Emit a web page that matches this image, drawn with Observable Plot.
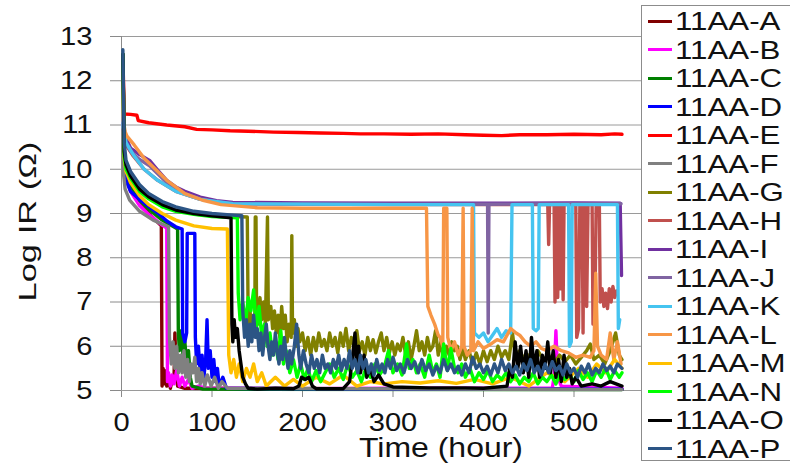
<!DOCTYPE html>
<html><head><meta charset="utf-8">
<script src="https://cdn.jsdelivr.net/npm/d3@7"></script>
<script src="https://cdn.jsdelivr.net/npm/@observablehq/plot@0.6"></script>
<style>
body{margin:0;background:#fff;}
#wrap{position:relative;width:790px;height:468px;overflow:hidden;font-family:"Liberation Sans",Arial,sans-serif;background:#fff;}
#legend{position:absolute;left:641px;top:5px;width:170px;height:456px;border:1px solid #8c8c8c;background:#fff;box-sizing:border-box;}
.row{position:absolute;left:0;height:28px;display:flex;align-items:center;}
.sw{width:24px;height:3px;margin-left:6px;flex:none;}
.lb{font-size:25px;color:#111;margin-left:3px;transform:scaleX(1.25);transform-origin:left center;white-space:nowrap;line-height:28px;}
#wrap svg g[aria-label^="x-axis"] line, #wrap svg g[aria-label^="y-axis"] line,
#wrap svg g[aria-label$="-axis tick"] path, #wrap svg g[aria-label$="-axis tick"] line{stroke:#8a8a8a;}
</style></head><body><div id="wrap"></div><script>
const seriesNames = ["11AA-A","11AA-B","11AA-C","11AA-D","11AA-E","11AA-F","11AA-G","11AA-H","11AA-I","11AA-J","11AA-K","11AA-L","11AA-M","11AA-N","11AA-O","11AA-P"];
const seriesColors = ["#800000","#ff00ff","#008000","#0000ff","#ff0000","#808080","#808000","#c0504d","#7030a0","#8064a2","#45c4f0","#f79646","#ffc000","#00ff00","#000000","#2c5585"];
const xTicks = [0,100,200,300,400,500,600];
const yTicks = [5,6,7,8,9,10,11,12,13];

const A = [[1.5,12.6],[3,10.2],[5,9.85],[10,9.52],[20,9.2],[30,9.0],[44,8.72],[44.8,5.1],[46,5.5],[47,5.15],[48,5.45],[50,5.1],[52,5.3],[54,5.05],[56,5.25],[58,5.2],[59,6.3],[60.5,5.4],[62,5.1],[70,5.05],[553,5.03]];
const B = [[1.5,12.6],[3,10.15],[5,9.82],[10,9.5],[20,9.18],[30,8.98],[44,8.75],[50,8.67],[50.8,5.2],[52,5.4],[54,5.1],[56,5.35],[58,5.15],[61,5.45],[64,5.1],[67,5.3],[70,5.1],[74,5.25],[78,5.05],[85,5.1],[95,5.05],[200,5.04],[300,5.05],[476,5.05],[478,5.3],[480,6.35],[482,5.3],[486,5.1],[553,5.05]];
const C = [[1.5,12.6],[3,10.3],[5,9.95],[10,9.62],[20,9.3],[30,9.1],[45,8.85],[62,8.65],[62.8,6.3],[64,5.9],[66,6.35],[68,5.8],[70,6.1],[72,5.6],[74,5.9],[76,5.3],[78,5.1],[90,5.03],[553,5.02]];
const D = [[1.5,12.6],[3,10.0],[5,9.75],[10,9.5],[22,9.28],[41,9.0],[50,8.83],[60,8.7],[67,8.65],[67.6,6.3],[70,6.1],[72,6.3],[72.6,8.55],[81,8.55],[81.6,6.2],[83,5.6],[85,6.0],[87,5.4],[89,5.8],[91,5.3],[93,5.7],[94.5,6.6],[96,5.5],[98,5.9],[100,5.3],[102,5.7],[104,5.2],[106,5.5],[108,5.1],[112,5.3],[116,5.05],[300,5.03],[553,5.03]];
const E = [[1.5,12.6],[3,11.25],[10,11.24],[17,11.22],[18.5,11.1],[30,11.05],[50,11.0],[70,10.96],[83,10.9],[100,10.89],[120,10.87],[140,10.86],[168,10.84],[195,10.83],[220,10.82],[245,10.81],[264,10.8],[290,10.8],[320,10.79],[350,10.8],[380,10.78],[400,10.77],[420,10.76],[440,10.78],[470,10.78],[500,10.79],[530,10.78],[545,10.8],[553,10.79]];
const F = [[1.5,12.5],[2.2,9.9],[4,9.55],[9,9.3],[20,9.05],[35,8.85],[52,8.7],[53,6.2],[55,5.6],[57,6.1],[59,5.5],[61,6.0],[63,5.4],[65,5.8],[67,5.4],[69,5.9],[71,5.3],[73,5.7],[75,5.2],[77,5.6],[79,5.4],[81,5.75],[83,5.2],[85,5.5],[87,5.15],[89,5.4],[92,5.1],[95,5.35],[99,5.1],[103,5.3],[107,5.05],[111,5.2],[117,5.05],[553,5.02]];
const G = [[1.5,12.6],[3,10.35],[5,10.05],[10,9.82],[20,9.52],[30,9.35],[45,9.18],[60,9.07],[80,8.99],[100,8.95],[139,8.92],[140,6.5],[142,6.8],[144,6.3],[146,6.7],[147.3,6.4],[147.8,8.92],[148.6,8.92],[149.2,6.9],[151,6.5],[153,7.1],[155,6.6],[157,7.0],[159,6.5],[161.3,8.92],[162.3,6.6],[165,6.9],[167,6.4],[169,6.8],[171,6.3],[173,6.7],[175,6.2],[177,6.9],[179,6.4],[181,6.7],[183,6.1],[185,6.5],[187.5,6.2],[188.2,8.5],[189,6.3],[191,6.6],[193,6.0],[195,6.4],[197,6.1],[200,6.3],[203,5.9],[206,6.2],[209,5.8],[212,6.2],[215,5.9],[218,6.3],[221,6.0],[224,6.15],[227,5.9],[230,6.3],[233,6.0],[236,6.2],[239,5.85],[242,6.3],[245,6.0],[248,6.4],[251,5.9],[254,6.2],[257,6.0],[260,6.35],[263,5.9],[266,6.1],[269,5.8],[272,6.2],[275,5.9],[278,6.15],[281,5.85],[284,6.1],[287,6.3],[290,5.9],[293,6.2],[296,5.85],[299,6.1],[302,5.8],[305,6.05],[308,5.9],[311,6.2],[314,5.8],[317,6.1],[320,5.7],[323,6.0],[326,6.35],[329,5.9],[332,6.1],[335,5.8],[338,6.2],[341,5.9],[344,6.0],[347,6.35],[350,5.8],[353,6.1],[356,5.7],[359,6.0],[362,5.8],[365,6.1],[368,5.9],[371,6.0],[374,5.7],[377,5.95],[380,5.7],[384,5.9],[388,5.6],[392,5.85],[396,5.6],[400,5.9],[404,5.65],[408,5.9],[412,5.7],[416,6.0],[420,5.75],[424,5.9],[428,5.7],[432,6.3],[435,5.8],[440,5.9],[445,5.7],[450,5.8],[455,5.6],[460,5.9],[466,5.7],[472,5.8],[478,5.6],[484,5.8],[490,5.65],[496,5.8],[502,5.6],[508,5.75],[514,5.9],[518,6.05],[522,5.7],[528,5.8],[534,5.6],[540,5.9],[546,6.3],[550,5.8],[553,5.7]];
const H = [[1.5,12.6],[3,10.85],[5,10.55],[13,10.3],[25,10.0],[40,9.75],[60,9.5],[87,9.32],[123,9.22],[300,9.2],[471,9.2],[472,8.3],[473,9.2],[478,9.2],[479,7.0],[480.5,9.2],[482,7.1],[483.5,9.2],[485,7.3],[486.5,9.2],[488,7.05],[489,9.2],[502,9.2],[503,6.2],[505,6.4],[506.5,9.2],[509,9.2],[510,6.3],[511,9.2],[513,9.2],[514,6.9],[515.5,9.2],[520,9.2],[521,6.5],[523,6.7],[524.5,9.2],[528,9.2],[529,7.0],[531,7.3],[533,6.9],[535,7.2],[537,6.85],[539,7.3],[541,7.0],[543,7.35],[545,7.1],[547,7.25]];
const I = [[1.5,12.6],[2,11.0],[5,10.7],[10,10.48],[20,10.33],[31,10.2],[40,9.98],[50,9.75],[60,9.6],[70,9.5],[87,9.37],[105,9.29],[123,9.25],[200,9.24],[300,9.23],[400,9.23],[500,9.24],[551,9.23],[552.5,7.6]];
const J = [[1.5,12.6],[2,10.9],[5,10.6],[10,10.4],[20,10.22],[31,10.08],[40,9.9],[50,9.7],[60,9.55],[70,9.45],[87,9.33],[105,9.26],[123,9.22],[300,9.21],[404.5,9.21],[405.2,6.3],[406,9.21],[500,9.22],[552,9.22]];
const K = [[1.5,12.6],[2,10.95],[5,10.6],[13,10.33],[25,10.0],[40,9.75],[60,9.5],[87,9.32],[123,9.22],[300,9.2],[389,9.2],[390,6.3],[395,6.2],[400,6.3],[405,6.1],[410,6.25],[415,6.4],[420,6.2],[425,6.35],[430,6.3],[431.5,9.2],[454,9.2],[455,6.4],[458,6.35],[460.5,6.4],[461.5,9.2],[494,9.2],[495,6.0],[497,6.1],[498,9.2],[548,9.2],[549,6.4],[550.5,6.6]];
const L = [[1.5,12.6],[2,11.1],[4,10.85],[6,10.75],[14,10.55],[25,10.25],[35,10.05],[50,9.75],[70,9.45],[90,9.3],[110,9.2],[150,9.13],[200,9.12],[300,9.12],[337,9.12],[338.5,6.9],[342,6.7],[346,6.5],[350,6.25],[352,6.2],[355,6.0],[356,9.12],[359.5,9.12],[360.5,6.2],[364,5.9],[368,6.1],[372,5.8],[376,6.0],[377.5,9.12],[378.5,6.0],[382,5.8],[386,5.9],[387.5,9.12],[389,5.9],[394,6.1],[400,5.95],[408,6.05],[415,6.15],[422,6.1],[430,6.4],[436,6.3],[440,6.25],[446,6.1],[452,6.0],[458,6.1],[464,5.95],[470,5.9],[478,6.0],[486,5.9],[494,5.85],[502,5.75],[510,5.8],[518,5.75],[522,5.9],[524,7.65],[526,6.0],[530,5.8],[536,5.7],[540,6.3],[544,5.7],[548,6.1],[552,5.6]];
const M = [[1.5,12.6],[3,10.25],[5,9.95],[10,9.7],[20,9.4],[30,9.2],[45,9.0],[60,8.85],[80,8.72],[100,8.66],[117,8.65],[118.5,5.8],[121,5.4],[124,5.7],[127,5.3],[130,5.6],[134,5.2],[138,5.5],[142,5.3],[146,5.6],[150,5.2],[155,5.4],[160,5.1],[170,5.3],[180,5.1],[190,5.25],[200,5.1],[215,5.3],[230,5.15],[245,5.35],[260,5.1],[275,5.2],[290,5.15],[310,5.2],[330,5.17],[350,5.22],[370,5.16],[390,5.25],[410,5.15],[430,5.3],[450,5.1],[470,5.4],[490,5.2],[505,5.5],[515,5.3],[525,5.6],[535,5.4],[545,5.7],[553,5.5]];
const N = [[1.5,12.6],[3,10.3],[5,10.0],[10,9.8],[20,9.5],[30,9.33],[45,9.15],[60,9.05],[80,8.98],[100,8.93],[128,8.9],[129,7.2],[131,6.6],[134,7.0],[137,6.5],[140,7.1],[143,6.8],[146,7.27],[149,6.4],[152,6.9],[155,6.2],[158,6.5],[161,6.0],[164,6.3],[167,5.8],[170,6.1],[173,5.7],[176,6.35],[179,5.6],[182,5.9],[186,5.4],[190,5.7],[194,5.3],[198,5.6],[202,5.25],[206,5.5],[210,5.2],[215,5.45],[220,5.2],[225,5.4],[230,5.6],[235,5.3],[240,5.5],[245,5.25],[250,5.6],[255,5.3],[260,5.45],[265,5.2],[270,5.5],[275,5.3],[280,5.6],[285,5.35],[290,5.5],[295,5.9],[300,5.4],[305,5.6],[310,5.35],[315,6.05],[318,5.5],[322,5.7],[326,5.4],[330,5.6],[335,5.3],[340,5.8],[344,5.4],[348,5.6],[352,5.3],[356,6.05],[360,5.45],[364,5.95],[368,5.5],[372,5.4],[376,5.6],[380,5.3],[385,5.5],[390,5.2],[395,5.4],[400,5.25],[405,5.45],[410,5.2],[415,5.35],[420,5.25],[425,5.4],[430,5.2],[435,5.35],[440,5.15],[445,5.3],[450,5.2],[455,5.4],[460,5.15],[465,5.3],[470,5.2],[475,5.35],[480,5.15],[485,5.4],[490,5.25],[495,5.35],[500,5.2],[505,5.45],[510,5.25],[515,5.4],[520,5.2],[525,5.45],[530,5.3],[535,5.5],[540,5.25],[545,5.45],[550,5.3],[553,5.4]];
const O = [[1.5,12.6],[3,10.4],[5,10.1],[10,9.85],[20,9.55],[30,9.38],[45,9.2],[60,9.08],[80,9.0],[100,8.95],[121,8.9],[122,6.5],[123,6.1],[124.5,6.6],[126,6.2],[128,6.4],[130,5.9],[132,5.6],[134,5.3],[137,5.15],[140,5.05],[150,5.03],[170,5.05],[190,5.04],[196,5.1],[199,5.3],[203,5.25],[207,5.3],[211,5.1],[215,5.04],[245,5.04],[252,5.2],[255,5.7],[258,6.3],[260,5.5],[262,6.0],[264,5.4],[268,5.8],[271,5.3],[275,5.5],[279,5.2],[284,5.35],[290,5.15],[300,5.08],[340,5.06],[380,5.06],[400,5.05],[426,5.1],[429,5.5],[432,5.3],[435,6.1],[438,5.5],[441,6.0],[444,5.4],[447,5.9],[450,5.3],[453,6.2],[456,5.5],[459,5.9],[462,5.3],[465,5.8],[468,5.5],[471,6.1],[474,5.4],[477,5.9],[480,5.3],[483,5.7],[486,5.2],[489,5.8],[492,5.3],[495,5.5],[498,5.15],[502,5.3],[508,5.1],[520,5.15],[530,5.1],[540,5.2],[553,5.1]];
const P = [[1.5,12.7],[3,10.6],[5,10.2],[10,9.95],[20,9.65],[30,9.45],[45,9.27],[60,9.15],[80,9.05],[100,9.0],[120,8.97],[133,8.95],[134,6.8],[136,6.2],[138,6.6],[140,6.0],[142,6.5],[144,6.1],[146,6.7],[148,6.2],[150,6.4],[152,5.9],[154,6.3],[156,5.8],[158,6.2],[160,6.5],[162,6.0],[164,5.7],[166,6.1],[168,5.8],[170,6.3],[172,5.9],[174,5.6],[176,6.0],[178,5.7],[180,6.2],[182,5.8],[184,5.5],[186,5.9],[188,5.6],[191,6.0],[193.5,6.5],[196,5.8],[198,5.5],[201,5.9],[204,5.6],[207,5.4],[210,5.8],[213,5.5],[216,5.7],[219,5.4],[222,5.8],[225,5.5],[228,5.6],[231,5.4],[234,5.7],[237,5.5],[240,5.8],[243,5.45],[246,5.7],[249,5.5],[252,5.9],[255,5.5],[258,5.7],[261,5.4],[264,5.8],[267,5.5],[270,5.7],[273,5.4],[276,5.6],[279,5.35],[282,5.7],[285,5.45],[288,5.6],[291,5.4],[294,5.7],[297,5.5],[300,5.75],[304,5.45],[308,5.6],[312,5.4],[316,5.7],[320,5.5],[324,5.65],[328,5.4],[332,5.7],[336,5.45],[340,5.6],[344,5.35],[348,5.55],[352,5.4],[356,5.7],[360,5.45],[364,5.6],[368,5.4],[372,5.55],[376,5.35],[380,5.6],[384,5.4],[388,5.75],[392,5.5],[396,5.6],[400,5.4],[404,5.55],[408,5.35],[412,5.6],[416,5.4],[420,5.7],[424,5.45],[428,5.6],[432,5.4],[436,5.55],[440,5.35],[444,5.6],[448,5.45],[452,5.7],[456,5.4],[460,5.55],[464,5.35],[468,5.6],[472,5.4],[476,5.65],[480,5.45],[484,5.55],[488,5.35],[492,5.6],[496,5.4],[500,5.5],[504,5.3],[508,5.55],[512,5.4],[516,5.6],[520,5.35],[524,5.5],[528,5.4],[532,5.6],[536,5.45],[540,5.55],[544,5.4],[548,5.6],[553,5.5]];

const seriesData = [A,B,C,D,E,F,G,H,I,J,K,L,M,N,O,P];
const rows = seriesNames.flatMap((name, i) => seriesData[i].map(([t, v]) => ({name, t, v})));

const FONT = "Liberation Sans, Arial, sans-serif";
const chart = Plot.plot({
  width: 790,
  height: 468,
  marginLeft: 121,
  marginRight: 126,
  marginTop: 36,
  marginBottom: 78,
  style: {fontFamily: FONT, fontSize: "26px", color: "#111", background: "#fff", overflow: "visible"},
  x: {domain: [0, 600], ticks: xTicks, tickSize: 7, tickPadding: 15, tickFormat: d => String(d), label: null},
  y: {domain: [5, 13], ticks: yTicks, tickSize: 11, tickPadding: 18, tickFormat: d => String(d), label: null},
  marks: [
    Plot.ruleY(yTicks, {stroke: "#9a9a9a", strokeWidth: 1}),
    Plot.ruleX([0], {stroke: "#8a8a8a", strokeWidth: 1}),
    ...seriesNames.map((name, i) => Plot.line(rows.filter(d => d.name === name), {
      x: "t", y: "v", stroke: seriesColors[i], strokeWidth: 3.4, strokeLinejoin: "round", strokeLinecap: "round"
    })),
    Plot.text(["Time (hour)"], {text: d => d, frameAnchor: "bottom", textAnchor: "middle", lineAnchor: "middle", dx: 48, dy: 58, fontSize: 27, fill: "#111", fontFamily: FONT}),
    Plot.text(["Log IR (Ω)"], {text: d => d, frameAnchor: "left", textAnchor: "middle", lineAnchor: "middle", rotate: -90, dx: -93, dy: 8, fontSize: 24, fill: "#111", fontFamily: FONT})
  ]
});

const wrap = document.getElementById("wrap");
wrap.appendChild(chart);

// stretch texts horizontally to mimic the source rendering
chart.querySelectorAll("text").forEach(el => {
  const len = el.getComputedTextLength();
  if (!len) return;
  let target;
  if (el.textContent === "Log IR (Ω)") target = 160;
  else if (el.textContent === "Time (hour)") target = 164;
  else target = len * 1.12;
  el.setAttribute("textLength", target);
  el.setAttribute("lengthAdjust", "spacingAndGlyphs");
});

const legend = document.createElement("div");
legend.id = "legend";
seriesNames.forEach((name, i) => {
  const row = document.createElement("div");
  row.className = "row";
  row.style.top = (15 + 28.5 * i - 14) + "px";
  const sw = document.createElement("div");
  sw.className = "sw";
  sw.style.background = seriesColors[i];
  const lb = document.createElement("span");
  lb.className = "lb";
  lb.textContent = name;
  row.appendChild(sw);
  row.appendChild(lb);
  legend.appendChild(row);
});
wrap.appendChild(legend);
</script></body></html>
